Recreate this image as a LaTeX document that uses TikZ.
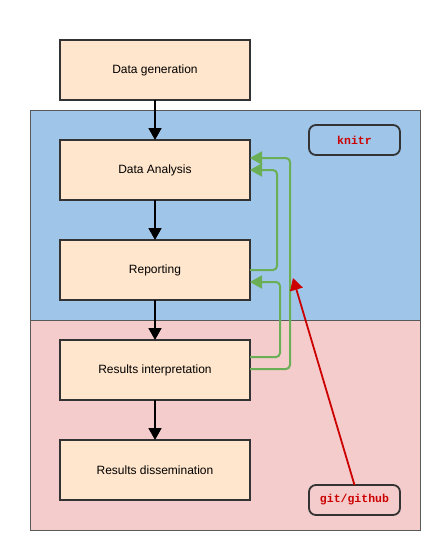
\documentclass[tikz,border=0pt]{standalone}
\usepackage{fontspec}
\setmainfont{Liberation Sans}
\setmonofont{Liberation Mono}
\usepackage{tikz}
\usetikzlibrary{positioning,arrows.meta,calc}
\usepackage{xcolor}
\definecolor{boxfill}{HTML}{FFE6CC}
\definecolor{bluezone}{HTML}{9FC5E8}
\definecolor{pinkzone}{HTML}{F4CCCC}
\definecolor{loopgreen}{HTML}{6AAE55}
\definecolor{gitred}{HTML}{CC0000}

\begin{document}
\begin{tikzpicture}[x=1pt,y=-1pt,font=\fontsize{12}{14}\selectfont,
  flow/.style={-{Triangle[length=12pt,width=13pt]},line width=1.8pt},
  stage/.style={draw=black!80,line width=1.8pt,fill=boxfill,outer sep=0pt,minimum width=190pt,minimum height=60pt},
  tool/.style={draw=black!80,line width=1.8pt,rounded corners=7pt,outer sep=0pt,minimum width=91pt,minimum height=30pt,
    font=\ttfamily\bfseries\fontsize{11.5}{13}\selectfont,text=gitred},
  loop/.style={flow,draw=loopgreen,line width=2pt,rounded corners=4pt}]
\useasboundingbox (0,0) rectangle (440,550);
% zones
\draw[fill=bluezone,draw=black!65,line width=1pt] (30,110) rectangle (420,320);
\draw[fill=pinkzone,draw=black!65,line width=1pt] (30,320) rectangle (420,530);
% stages
\node[stage] (gen) at (155,70) {Data generation};
\node[stage,below=40pt of gen] (ana) {Data Analysis};
\node[stage,below=40pt of ana] (rep) {Reporting};
\node[stage,below=40pt of rep] (interp) {Results interpretation};
\node[stage,below=40pt of interp] (diss) {Results dissemination};
\node[tool] (knitr) at (354.5,140) {knitr};
\node[tool] (git) at (354.5,500) {git/github};
% flow
\draw[flow] (gen) -- (ana);
\draw[flow] (ana) -- (rep);
\draw[flow] (rep) -- (interp);
\draw[flow] (interp) -- (diss);
% feedback loops
\draw[loop] (rep.east) -- ++(27,0) |- (ana.east);
\draw[loop] ([yshift=13pt]interp.east) -- ++(30,0) |- ([yshift=-12pt]rep.east);
\draw[loop] ([yshift=1pt]interp.east) -- ++(40,0) |- ([yshift=12pt]ana.east);
% version control
\coordinate (gittip) at (293,278);
\draw[flow,draw=gitred] (git.north) -- (gittip);
\end{tikzpicture}
\end{document}
